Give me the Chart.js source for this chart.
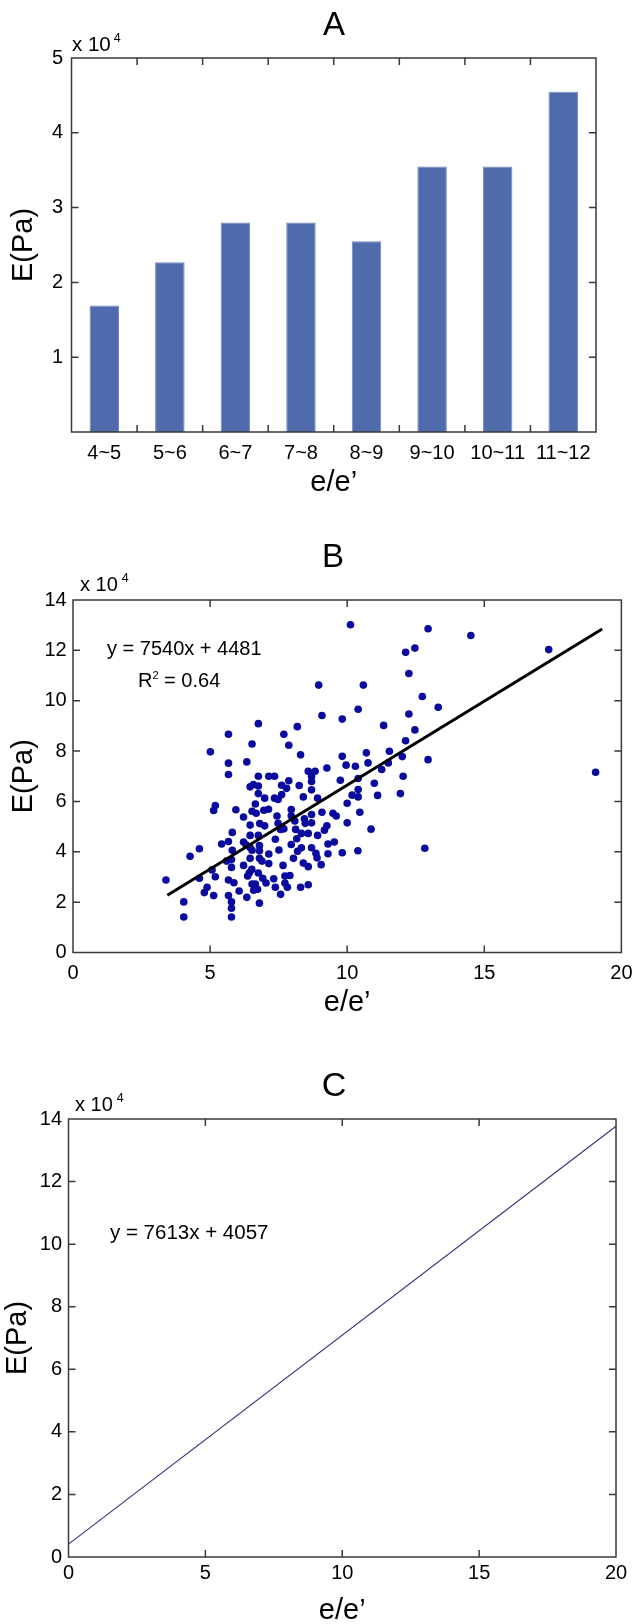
<!DOCTYPE html>
<html>
<head>
<meta charset="utf-8">
<script src="https://cdn.jsdelivr.net/npm/chart.js"></script>
<style>
  body { margin: 0; background: #fff; }
  #page { position: relative; width: 641px; height: 1624px; }
  canvas { position: absolute; left: 0; }
</style>
</head>
<body>
<div id="page">
  <canvas id="chartA" width="641" height="520" style="top:0"></canvas>
  <canvas id="chartB" width="641" height="500" style="top:520px"></canvas>
  <canvas id="chartC" width="641" height="604" style="top:1020px"></canvas>
</div>
<script>
const FONT = "'Liberation Sans', Arial, Helvetica, sans-serif"
Chart.defaults.font.family = FONT
Chart.defaults.color = "#000"

// ---- panel A: mean E per e/e' group (x 10^4 Pa)
const ratioBins = ["4~5", "5~6", "6~7", "7~8", "8~9", "9~10", "10~11", "11~12"]
const meanE = [1.69, 2.27, 2.80, 2.80, 2.55, 3.55, 3.55, 4.55]
const aYTicks = [1, 2, 3, 4, 5]

// ---- panel B: individual measurements, e/e' vs E (x 10^4 Pa)
const ratioB = [3.39, 4.04, 4.04, 4.27, 4.61, 4.61, 4.79, 4.89, 5.01, 5.07,
  5.13, 5.19, 5.13, 5.19, 5.42, 5.60, 5.67, 5.67, 5.67, 5.67,
  5.67, 5.67, 5.78, 5.78, 5.78, 5.78, 5.78, 5.81, 5.81, 5.87,
  5.94, 6.06, 6.22, 6.22, 6.22, 6.31, 6.34, 6.34, 6.37, 6.43,
  6.46, 6.46, 6.46, 6.46, 6.46, 6.52, 6.53, 6.53, 6.53, 6.53,
  6.58, 6.59, 6.65, 6.65, 6.68, 6.73, 6.76, 6.76, 6.76, 6.76,
  6.76, 6.76, 6.80, 6.80, 6.80, 6.80, 6.81, 6.89, 6.92, 6.96,
  6.99, 6.99, 7.04, 7.13, 7.14, 7.14, 7.14, 7.32, 7.35, 7.35,
  7.38, 7.38, 7.44, 7.48, 7.48, 7.51, 7.57, 7.57, 7.61, 7.61,
  7.66, 7.69, 7.69, 7.73, 7.73, 7.79, 7.82, 7.87, 7.87, 7.91,
  7.96, 7.96, 7.96, 8.04, 8.09, 8.12, 8.16, 8.18, 8.19, 8.25,
  8.30, 8.30, 8.33, 8.33, 8.40, 8.40, 8.44, 8.47, 8.58, 8.58,
  8.58, 8.58, 8.70, 8.70, 8.70, 8.70, 8.70, 8.70, 8.83, 8.86,
  8.90, 8.92, 8.92, 8.96, 9.05, 9.08, 9.08, 9.17, 9.26, 9.26,
  9.30, 9.30, 9.48, 9.53, 9.60, 9.75, 9.82, 9.82, 9.82, 9.96,
  10.00, 10.00, 10.12, 10.18, 10.30, 10.39, 10.40, 10.40, 10.40, 10.40,
  10.46, 10.59, 10.70, 10.76, 10.87, 10.99, 11.11, 11.26, 11.33, 11.50,
  11.54, 11.94, 12.01, 12.04, 12.13, 12.13, 12.25, 12.25, 12.47, 12.47,
  12.74, 12.83, 12.95, 12.95, 13.32, 14.51, 17.35, 19.06]
const modulusB = [2.88, 2.01, 1.41, 3.82, 4.12, 2.95, 2.38, 2.59, 7.97, 3.28,
  5.64, 5.84, 2.26, 3.01, 4.31, 3.63, 8.67, 7.52, 7.07, 4.41,
  2.88, 2.26, 3.69, 3.38, 2.01, 1.76, 1.41, 4.77, 4.06, 2.77,
  5.67, 2.44, 5.38, 4.39, 3.46, 4.28, 7.57, 2.19, 3.04, 3.17,
  6.58, 5.06, 4.65, 4.17, 3.74, 3.30, 8.28, 5.61, 4.06, 2.72,
  6.67, 2.47, 5.90, 2.72, 5.53, 2.51, 9.09, 7.00, 6.61, 6.31,
  4.65, 3.16, 4.25, 4.04, 3.74, 1.96, 5.12, 3.63, 2.95, 5.65,
  6.13, 5.03, 2.76, 5.69, 7.00, 3.91, 3.53, 2.93, 7.00, 6.13,
  4.50, 2.59, 5.42, 5.13, 6.08, 4.07, 2.31, 4.89, 6.27, 6.64,
  3.46, 8.67, 4.91, 3.04, 2.76, 6.52, 2.59, 8.23, 6.82, 3.06,
  5.68, 5.43, 4.29, 3.74, 5.22, 4.89, 4.52, 8.97, 4.02, 6.63,
  7.85, 2.59, 4.73, 4.16, 6.18, 3.55, 5.31, 5.13, 7.20, 4.73,
  3.41, 2.69, 6.99, 6.79, 6.46, 5.48, 5.15, 4.16, 7.20, 3.94,
  3.76, 6.13, 4.65, 10.62, 3.49, 9.41, 5.57, 4.86, 7.33, 5.03,
  4.31, 3.92, 5.53, 4.39, 5.42, 6.84, 9.27, 7.79, 3.96, 7.44,
  5.93, 5.15, 13.02, 6.25, 7.40, 4.04, 9.66, 6.91, 6.47, 6.18,
  5.57, 10.62, 7.93, 7.53, 4.90, 6.72, 6.24, 7.27, 9.02, 7.53,
  7.99, 6.31, 7.78, 7.00, 11.92, 8.41, 9.47, 11.08, 12.09, 8.84,
  10.17, 4.14, 12.86, 7.66, 9.74, 12.59, 12.03, 7.16]
// fitted line as drawn, end points
const fitBx = [3.44, 19.30]
const fitBy = [2.27, 12.85]

// ---- panel C: regression line as drawn
const lineCx = [0, 20]
const lineCy = [0.41, 13.77]

const ratioTicks = [0, 5, 10, 15, 20]
const modulusTicks = [0, 2, 4, 6, 8, 10, 12, 14]

//draws a piece of text made of several runs (for superscripts)
function drawParts(ctx, item) {
  let w = 0
  item.parts.forEach(p => {
    ctx.font = p[1] + "px " + FONT
    w += ctx.measureText(p[0]).width + (p[3] || 0)
  })
  let x = item.align === "center" ? item.x - w / 2 : item.x
  item.parts.forEach(p => {
    ctx.font = p[1] + "px " + FONT
    x += p[3] || 0
    ctx.fillText(p[0], x, item.y - (p[2] || 0))
    x += ctx.measureText(p[0]).width
  })
}

//matlab style box with inward ticks + free texts
function frame(cfg) {
  return {
    id: "frame",
    afterDraw(chart) {
      const { ctx, chartArea: a, scales } = chart
      const len = 7
      ctx.save()
      ctx.strokeStyle = "#3a3a3a"
      ctx.lineWidth = 1.5
      ctx.beginPath()
      let xs = []
      if (cfg.boundaries) {
        for (let i = 0; i < chart.data.labels.length - 1; i++) {
          xs.push((scales.x.getPixelForValue(i) + scales.x.getPixelForValue(i + 1)) / 2)
        }
      } else {
        scales.x.ticks.forEach(t => {
          if (t.value > scales.x.min && t.value < scales.x.max) xs.push(scales.x.getPixelForValue(t.value))
        })
      }
      xs.forEach(px => {
        ctx.moveTo(px, a.top); ctx.lineTo(px, a.top + len)
        ctx.moveTo(px, a.bottom); ctx.lineTo(px, a.bottom - len)
      })
      scales.y.ticks.forEach(t => {
        if (t.value > scales.y.min && t.value < scales.y.max) {
          const py = scales.y.getPixelForValue(t.value)
          ctx.moveTo(a.left, py); ctx.lineTo(a.left + len, py)
          ctx.moveTo(a.right, py); ctx.lineTo(a.right - len, py)
        }
      })
      ctx.stroke()
      ctx.strokeRect(a.left, a.top, a.right - a.left, a.bottom - a.top)
      ctx.fillStyle = "#000"
      ctx.textBaseline = "alphabetic"
      ctx.textAlign = "left"
      cfg.texts.forEach(t => drawParts(ctx, t))
      ctx.restore()
    }
  }
}

function linearAxis(tickValues, opts) {
  return {
    type: "linear",
    min: opts.min,
    max: opts.max,
    afterBuildTicks: s => { s.ticks = tickValues.map(v => ({ value: v })) },
    grid: { display: false, drawTicks: false },
    border: { display: false },
    ticks: { font: { size: 20 }, color: "#000", padding: opts.pad, maxRotation: 0, autoSkip: false },
    title: opts.title,
    afterFit: opts.fit
  }
}

const axisTitleFont = { size: 29 }

// ---------- A
new Chart(document.getElementById("chartA"), {
  type: "bar",
  data: {
    labels: ratioBins,
    datasets: [{
      data: meanE,
      backgroundColor: "#4f6bac",
      borderColor: "#7189c0",
      borderWidth: 1,
      barPercentage: 0.45,
      categoryPercentage: 1.0
    }]
  },
  options: {
    responsive: false,
    animation: false,
    layout: { padding: { top: 58, right: 45, left: 0, bottom: 0 } },
    plugins: { legend: { display: false }, tooltip: { enabled: false } },
    scales: {
      x: {
        grid: { display: false, drawTicks: false },
        border: { display: false },
        ticks: { font: { size: 20 }, color: "#000", padding: 9, maxRotation: 0, autoSkip: false },
        title: { display: true, text: "e/e\u2019", font: axisTitleFont, padding: { top: 0, bottom: 20 } },
        afterFit: s => { s.height = 520 - 432 }
      },
      y: linearAxis(aYTicks, {
        min: 0, max: 5, pad: 8.5,
        title: { display: true, text: "E(Pa)", font: axisTitleFont, padding: { top: 7, bottom: 0 } },
        fit: s => { s.width = 71.5 }
      })
    }
  },
  plugins: [frame({
    boundaries: true,
    texts: [
      { x: 334, y: 35, align: "center", parts: [["A", 33]] },
      { x: 72, y: 51, parts: [["x 10", 20.5], ["4", 12.5, 9, 3]] }
    ]
  })]
})

// ---------- B
new Chart(document.getElementById("chartB"), {
  type: "scatter",
  data: {
    datasets: [{
      data: fitBx.map((x, i) => ({ x: x, y: fitBy[i] })),
      showLine: true,
      borderColor: "#000",
      borderWidth: 3,
      pointRadius: 0,
      order: 0
    }, {
      data: ratioB.map((x, i) => ({ x: x, y: modulusB[i] })),
      backgroundColor: "#0a0a9e",
      borderWidth: 0,
      pointRadius: 3.8,
      order: 1
    }]
  },
  options: {
    responsive: false,
    animation: false,
    layout: { padding: { top: 80, right: 16, left: 0, bottom: 0 } },
    plugins: { legend: { display: false }, tooltip: { enabled: false } },
    scales: {
      x: linearAxis(ratioTicks, {
        min: 0, max: 20, pad: 8.5,
        title: { display: true, text: "e/e\u2019", font: axisTitleFont, padding: { top: 0, bottom: 0 } },
        fit: s => { s.height = 500 - 432.5 }
      }),
      y: linearAxis(modulusTicks, {
        min: 0, max: 14, pad: 6.3,
        title: { display: true, text: "E(Pa)", font: axisTitleFont, padding: { top: 7, bottom: 0 } },
        fit: s => { s.width = 73 }
      })
    }
  },
  plugins: [frame({
    texts: [
      { x: 333, y: 47, align: "center", parts: [["B", 33]] },
      { x: 80, y: 71, parts: [["x 10", 20], ["4", 12.5, 9, 4]] },
      { x: 107, y: 135, parts: [["y = 7540x + 4481", 20]] },
      { x: 138, y: 167, parts: [["R", 20], ["2", 11, 8], [" = 0.64", 20]] }
    ]
  })]
})

// ---------- C
new Chart(document.getElementById("chartC"), {
  type: "scatter",
  data: {
    datasets: [{
      data: lineCx.map((x, i) => ({ x: x, y: lineCy[i] })),
      showLine: true,
      borderColor: "#2f2f7c",
      borderWidth: 1.1,
      pointRadius: 0
    }]
  },
  options: {
    responsive: false,
    animation: false,
    layout: { padding: { top: 99, right: 25, left: 0, bottom: 0 } },
    plugins: { legend: { display: false }, tooltip: { enabled: false } },
    scales: {
      x: linearAxis(ratioTicks, {
        min: 0, max: 20, pad: 4,
        title: { display: true, text: "e/e\u2019", font: axisTitleFont, padding: { top: 0, bottom: -4 } },
        fit: s => { s.height = 604 - 537 }
      }),
      y: linearAxis(modulusTicks, {
        min: 0, max: 14, pad: 6.5,
        title: { display: true, text: "E(Pa)", font: axisTitleFont, padding: { top: 1, bottom: 0 } },
        fit: s => { s.width = 68.5 }
      })
    }
  },
  plugins: [frame({
    texts: [
      { x: 334, y: 76, align: "center", parts: [["C", 34]] },
      { x: 75, y: 91, parts: [["x 10", 20], ["4", 12.5, 9, 4]] },
      { x: 110, y: 219, parts: [["y = 7613x + 4057", 20.5]] }
    ]
  })]
})
</script>
</body>
</html>
